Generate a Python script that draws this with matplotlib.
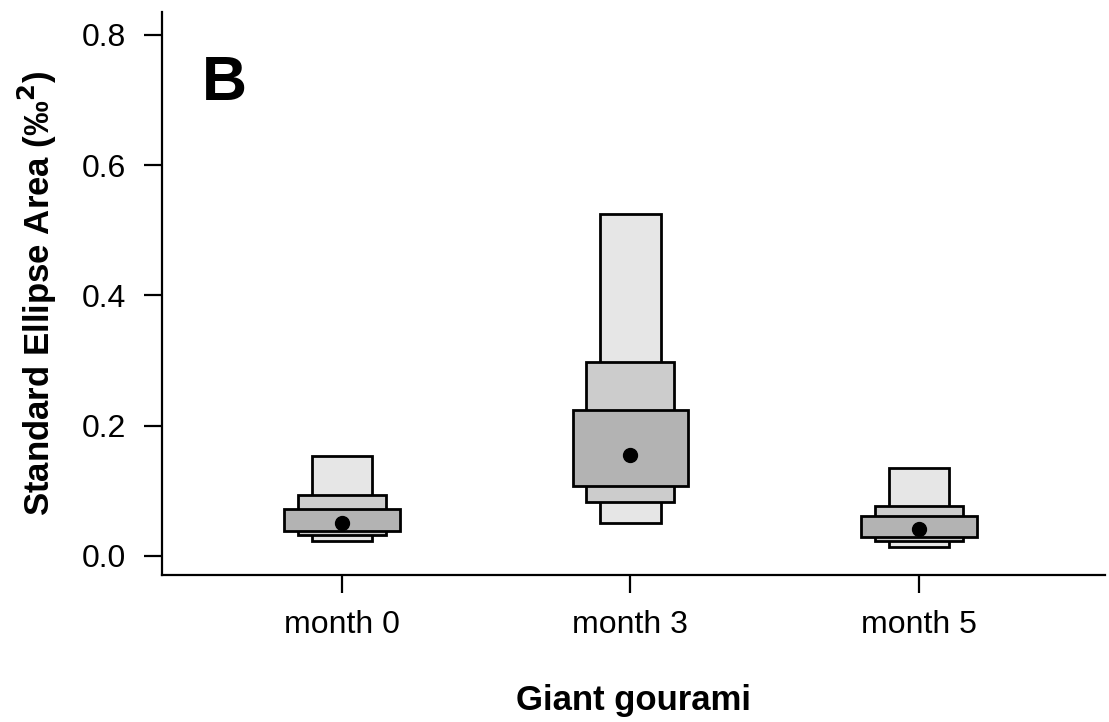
import numpy as np
import matplotlib
matplotlib.use("Agg")
import matplotlib.pyplot as plt

plt.rcParams['font.family'] = ['Liberation Sans', 'DejaVu Sans']

# SEA credible intervals (95 / 75 / 50 %) and mode per sampling time
groups = ['month 0', 'month 3', 'month 5']
lo95 = [0.023, 0.051, 0.014]
hi95 = [0.154, 0.525, 0.135]
lo75 = [0.032, 0.083, 0.023]
hi75 = [0.094, 0.298, 0.077]
lo50 = [0.038, 0.108, 0.029]
hi50 = [0.072, 0.224, 0.061]
mode = [0.051, 0.155, 0.042]

x = np.arange(1, len(groups) + 1)

fig = plt.figure(figsize=(11.09, 7.22), dpi=100)
ax = fig.add_axes([0.146, 0.2036, 0.8504, 0.7798])

boxes = [
    (lo95, hi95, 0.21, '#e6e6e6'),
    (lo75, hi75, 0.305, '#cccccc'),
    (lo50, hi50, 0.40, '#b3b3b3'),
]
for lo, hi, w, col in boxes:
    lo = np.array(lo)
    hi = np.array(hi)
    ax.bar(x, hi - lo, bottom=lo, width=w, color=col,
           edgecolor='black', linewidth=2.0, zorder=2)

ax.plot(x, mode, 'o', color='black', markersize=10, zorder=3)

ax.set_xlim(0.376, 3.645)
ax.set_ylim(-0.0292, 0.8353)
ax.set_xticks(x)
ax.set_xticklabels(groups)
ax.set_yticks([0.0, 0.2, 0.4, 0.6, 0.8])
ax.set_yticklabels(['0.0', '0.2', '0.4', '0.6', '0.8'])

for s in ['top', 'right']:
    ax.spines[s].set_visible(False)
for s in ['left', 'bottom']:
    ax.spines[s].set_linewidth(1.6)

ax.tick_params(axis='both', length=13, width=1.6, labelsize=23)
ax.tick_params(axis='y', pad=13)
ax.tick_params(axis='x', pad=12)

ax.set_xlabel('Giant gourami', fontsize=25, fontweight='bold', labelpad=32)
ax.set_ylabel('Standard Ellipse Area (‰$^{\\mathbf{2}}$)', fontsize=25,
              fontweight='bold', labelpad=16)

ax.text(0.591, 0.726, 'B', fontsize=45, fontweight='bold',
        ha='center', va='center')

fig.savefig('out.png', dpi=100)
